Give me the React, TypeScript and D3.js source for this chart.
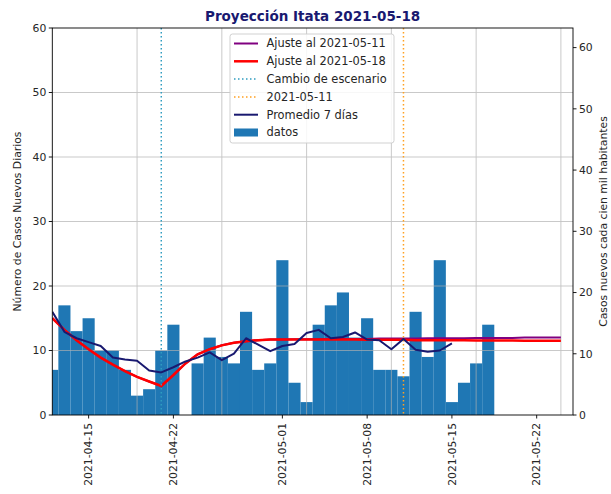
import React from "react";
import * as d3 from "d3";

const W = 611;
const H = 494;
const PLOT = { left: 52.3, right: 573, top: 28, bottom: 415 };

// Days shown (2021-04-12 .. 2021-05-24)
const dias = [
  "2021-04-12", "2021-04-13", "2021-04-14", "2021-04-15", "2021-04-16", "2021-04-17", "2021-04-18",
  "2021-04-19", "2021-04-20", "2021-04-21", "2021-04-22", "2021-04-23", "2021-04-24", "2021-04-25",
  "2021-04-26", "2021-04-27", "2021-04-28", "2021-04-29", "2021-04-30", "2021-05-01", "2021-05-02",
  "2021-05-03", "2021-05-04", "2021-05-05", "2021-05-06", "2021-05-07", "2021-05-08", "2021-05-09",
  "2021-05-10", "2021-05-11", "2021-05-12", "2021-05-13", "2021-05-14", "2021-05-15", "2021-05-16",
  "2021-05-17", "2021-05-18", "2021-05-19", "2021-05-20", "2021-05-21", "2021-05-22", "2021-05-23",
  "2021-05-24",
];

// daily new cases (bars), 2021-04-12 .. 2021-05-18
const casos = [7, 17, 13, 15, 10, 10, 7, 3, 4, 10, 14, 0, 8, 12, 9, 8, 16, 7, 8, 24, 5, 2, 14, 17, 19, 12, 15, 7, 7, 6, 16, 9, 24, 2, 5, 8, 14];

// 7-day average, 2021-04-12 .. 2021-05-15
const promedio7 = [16.0, 12.9, 11.9, 11.3, 10.7, 8.9, 8.6, 8.4, 6.9, 6.6, 7.4, 8.3, 8.9, 9.7, 8.5, 9.5, 11.9, 10.9, 9.9, 10.7, 11.0, 12.7, 13.2, 11.9, 12.1, 12.8, 11.7, 11.6, 10.2, 11.8, 10.1, 9.8, 10.0, 11.1];

// fit at 2021-05-18, 2021-04-12 .. 2021-05-24
const ajuste0518 = [15.0, 13.2, 11.6, 10.2, 8.9, 7.8, 6.8, 5.9, 5.2, 4.5, 6.2, 8.0, 9.4, 10.2, 10.8, 11.2, 11.45, 11.6,
  11.7, 11.7, 11.7, 11.7, 11.7, 11.7, 11.7, 11.7, 11.65, 11.65, 11.65, 11.65, 11.6, 11.6, 11.6, 11.6, 11.6, 11.55, 11.55, 11.55, 11.55, 11.5, 11.5, 11.5, 11.5];

// fit at 2021-05-11, 2021-04-12 .. 2021-05-24
const ajuste0511 = [15.0, 13.2, 11.6, 10.2, 8.9, 7.8, 6.8, 5.9, 5.2, 4.5, 6.2, 8.0, 9.4, 10.2, 10.8, 11.2, 11.45, 11.6,
  11.7, 11.7, 11.75, 11.75, 11.75, 11.8, 11.8, 11.8, 11.8, 11.85, 11.85, 11.85, 11.85, 11.9, 11.9, 11.9, 11.9, 11.95, 11.95, 11.95, 11.95, 12.0, 12.0, 12.0, 12.0];

const xTickLabels = ["2021-04-15", "2021-04-22", "2021-05-01", "2021-05-08", "2021-05-15", "2021-05-22"];
const xGridDates = ["2021-04-19", "2021-04-26", "2021-05-03", "2021-05-10", "2021-05-17", "2021-05-24"];
const yTicks = [0, 10, 20, 30, 40, 50, 60];
const yRightTicks = [0, 10, 20, 30, 40, 50, 60];
const fechaCambio = "2021-04-21";
const fechaAnterior = "2021-05-11";
const xDomain = ["2021-04-12", "2021-05-25"];
const yMax = 60;
const yRightMax = 63.2;

const titulo = "Proyección Itata 2021-05-18";
const legendItems = [
  { label: "Ajuste al 2021-05-11", kind: "line", color: "#800080", width: 2, dash: "" },
  { label: "Ajuste al 2021-05-18", kind: "line", color: "#ff0000", width: 2.5, dash: "" },
  { label: "Cambio de escenario", kind: "line", color: "#2f9cc0", width: 1.5, dash: "1.5,2.5" },
  { label: "2021-05-11", kind: "line", color: "#ffa020", width: 1.5, dash: "1.5,2.5" },
  { label: "Promedio 7 días", kind: "line", color: "#191970", width: 2, dash: "" },
  { label: "datos", kind: "bar", color: "#1f77b4", width: 0, dash: "" },
];

const FONT = "'DejaVu Sans', sans-serif";

export default function App() {
  const parse = d3.utcParse("%Y-%m-%d");
  const x = d3
    .scaleUtc()
    .domain(xDomain.map((d) => parse(d) as Date))
    .range([PLOT.left, PLOT.right]);
  const y = d3.scaleLinear().domain([0, yMax]).range([PLOT.bottom, PLOT.top]);
  const yR = d3.scaleLinear().domain([0, yRightMax]).range([PLOT.bottom, PLOT.top]);

  const fechas = dias.map((d) => parse(d) as Date);
  const dayW = x(d3.utcDay.offset(fechas[0], 1)) - x(fechas[0]);

  const line = d3
    .line<[Date, number]>()
    .x((d) => x(d[0]))
    .y((d) => y(d[1]));

  const serie = (vals: number[]) => vals.map((v, i) => [fechas[i], v] as [Date, number]);

  const textColor = "#262626";
  const tickFont = 10.8;

  return (
    <svg
      width={W}
      height={H}
      style={{ position: "absolute", left: 0, top: 0, background: "#fff" }}
      fontFamily={FONT}
    >
      <defs>
        <clipPath id="plotclip">
          <rect x={PLOT.left} y={PLOT.top} width={PLOT.right - PLOT.left} height={PLOT.bottom - PLOT.top} />
        </clipPath>
      </defs>
      <rect x={0} y={0} width={W} height={H} fill="#fff" />

      {/* bars */}
      <g clipPath="url(#plotclip)">
        {casos.map((v, i) => (
          <rect
            key={i}
            x={x(fechas[i]) - dayW / 2}
            y={y(v)}
            width={dayW}
            height={y(0) - y(v)}
            fill="#1f77b4"
          />
        ))}
      </g>

      {/* grid */}
      <g stroke="#b0b0b0" strokeWidth={0.9} opacity={0.75}>
        {yTicks
          .filter((t) => t > 0 && t < yMax)
          .map((t) => (
            <line key={"h" + t} x1={PLOT.left} x2={PLOT.right} y1={y(t)} y2={y(t)} />
          ))}
        {xGridDates.map((d) => (
          <line key={"v" + d} x1={x(parse(d) as Date)} x2={x(parse(d) as Date)} y1={PLOT.top} y2={PLOT.bottom} />
        ))}
      </g>

      {/* lines */}
      <g clipPath="url(#plotclip)" fill="none">
        <path d={line(serie(ajuste0511)) || ""} stroke="#800080" strokeWidth={2} />
        <path d={line(serie(ajuste0518)) || ""} stroke="#ff0000" strokeWidth={2.5} />
        <line
          x1={x(parse(fechaCambio) as Date)}
          x2={x(parse(fechaCambio) as Date)}
          y1={PLOT.top}
          y2={PLOT.bottom}
          stroke="#2f9cc0"
          strokeWidth={1.5}
          strokeDasharray="1.5,2.5"
        />
        <line
          x1={x(parse(fechaAnterior) as Date)}
          x2={x(parse(fechaAnterior) as Date)}
          y1={PLOT.top}
          y2={PLOT.bottom}
          stroke="#ffa020"
          strokeWidth={1.5}
          strokeDasharray="1.5,2.5"
        />
        <path d={line(serie(promedio7)) || ""} stroke="#191970" strokeWidth={2} strokeLinejoin="round" />
      </g>

      {/* frame */}
      <rect
        x={PLOT.left}
        y={PLOT.top}
        width={PLOT.right - PLOT.left}
        height={PLOT.bottom - PLOT.top}
        fill="none"
        stroke="#000"
        strokeWidth={0.9}
      />

      {/* left axis */}
      <g fontSize={tickFont} fill={textColor}>
        {yTicks.map((t) => (
          <g key={"yl" + t}>
            <line x1={PLOT.left - 3.5} x2={PLOT.left} y1={y(t)} y2={y(t)} stroke="#000" strokeWidth={0.9} />
            <text x={PLOT.left - 6} y={y(t)} dy="0.35em" textAnchor="end">
              {t}
            </text>
          </g>
        ))}
      </g>

      {/* right axis */}
      <g fontSize={tickFont} fill={textColor}>
        {yRightTicks.map((t) => (
          <g key={"yr" + t}>
            <line x1={PLOT.right} x2={PLOT.right + 3.5} y1={yR(t)} y2={yR(t)} stroke="#000" strokeWidth={0.9} />
            <text x={PLOT.right + 6} y={yR(t)} dy="0.35em" textAnchor="start">
              {t}
            </text>
          </g>
        ))}
      </g>

      {/* x axis */}
      <g fontSize={tickFont} fill={textColor}>
        {xTickLabels.map((d) => {
          const xx = x(parse(d) as Date);
          return (
            <g key={"x" + d}>
              <line x1={xx} x2={xx} y1={PLOT.bottom} y2={PLOT.bottom + 3.5} stroke="#000" strokeWidth={0.9} />
              <text transform={`translate(${xx},${PLOT.bottom + 8}) rotate(-90)`} dy="0.35em" textAnchor="end">
                {d}
              </text>
            </g>
          );
        })}
      </g>

      {/* axis labels */}
      <text
        transform={`translate(17,${(PLOT.top + PLOT.bottom) / 2}) rotate(-90)`}
        textAnchor="middle"
        dy="0.35em"
        fontSize={10.8}
        fill={textColor}
      >
        Número de Casos Nuevos Diarios
      </text>
      <text
        transform={`translate(603,${(PLOT.top + PLOT.bottom) / 2}) rotate(-90)`}
        textAnchor="middle"
        dy="0.35em"
        fontSize={10.8}
        fill={textColor}
      >
        Casos nuevos cada cien mil habitantes
      </text>

      {/* title */}
      <text
        x={(PLOT.left + PLOT.right) / 2}
        y={21}
        textAnchor="middle"
        fontSize={13.5}
        fontWeight="bold"
        fill="#191970"
      >
        {titulo}
      </text>

      {/* legend */}
      <g>
        <rect x={230} y={34} width={164} height={109} rx={2.5} fill="#fff" fillOpacity={0.85} stroke="#cccccc" strokeWidth={0.9} />
        {legendItems.map((it, i) => {
          const cy = 43.5 + i * 17.8;
          return (
            <g key={it.label}>
              {it.kind === "line" ? (
                <line
                  x1={234}
                  x2={258}
                  y1={cy}
                  y2={cy}
                  stroke={it.color}
                  strokeWidth={it.width}
                  strokeDasharray={it.dash || undefined}
                />
              ) : (
                <rect x={234} y={cy - 4} width={24} height={8} fill={it.color} />
              )}
              <text x={266.5} y={cy} dy="0.35em" fontSize={11.4} fill={textColor}>
                {it.label}
              </text>
            </g>
          );
        })}
      </g>
    </svg>
  );
}
